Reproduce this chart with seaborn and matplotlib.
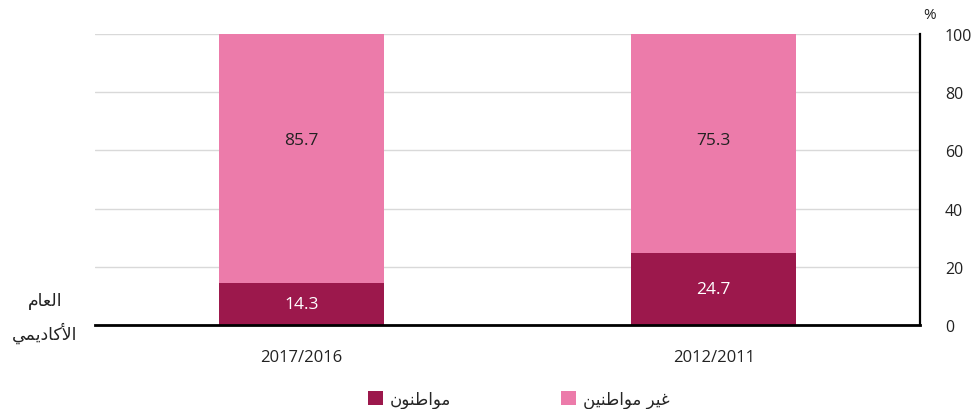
import matplotlib
matplotlib.use("Agg")
import matplotlib.pyplot as plt
from matplotlib.patches import Patch
import seaborn as sns
import pandas as pd

# ---------------- data ----------------
years = ["2017/2016", "2012/2011"]
citizens = [14.3, 24.7]
non_citizens = [85.7, 75.3]
y_ticks = [0, 20, 40, 60, 80, 100]
label_citizens = "مواطنون"
label_non_citizens = "غير مواطنين"
axis_label = "العام\nالأكاديمي"

# ---------------- minimal Arabic shaping ----------------
# forms: (isolated, final, initial, medial); None for right-joining letters
FORMS = {
    "\u0627": ("\uFE8D", "\uFE8E", None, None),
    "\u0623": ("\uFE83", "\uFE84", None, None),
    "\u0625": ("\uFE87", "\uFE88", None, None),
    "\u0622": ("\uFE81", "\uFE82", None, None),
    "\u062F": ("\uFEA9", "\uFEAA", None, None),
    "\u0631": ("\uFEAD", "\uFEAE", None, None),
    "\u0648": ("\uFEED", "\uFEEE", None, None),
    "\u0644": ("\uFEDD", "\uFEDE", "\uFEDF", "\uFEE0"),
    "\u0639": ("\uFEC9", "\uFECA", "\uFECB", "\uFECC"),
    "\u063A": ("\uFECD", "\uFECE", "\uFECF", "\uFED0"),
    "\u0645": ("\uFEE1", "\uFEE2", "\uFEE3", "\uFEE4"),
    "\u0643": ("\uFED9", "\uFEDA", "\uFEDB", "\uFEDC"),
    "\u064A": ("\uFEF1", "\uFEF2", "\uFEF3", "\uFEF4"),
    "\u0637": ("\uFEC1", "\uFEC2", "\uFEC3", "\uFEC4"),
    "\u0646": ("\uFEE5", "\uFEE6", "\uFEE7", "\uFEE8"),
}
LAM_ALEF = {
    "\u0627": ("\uFEFB", "\uFEFC"),
    "\u0623": ("\uFEF7", "\uFEF8"),
    "\u0625": ("\uFEF9", "\uFEFA"),
    "\u0622": ("\uFEF5", "\uFEF6"),
}


def dual(c):
    return c in FORMS and FORMS[c][2] is not None


def shape_word(word):
    units = []
    i = 0
    while i < len(word):
        c = word[i]
        if c == "\u0644" and i + 1 < len(word) and word[i + 1] in LAM_ALEF:
            units.append(("LA", word[i + 1]))
            i += 2
        else:
            units.append(("C", c))
            i += 1
    out = []
    for k, (kind, c) in enumerate(units):
        prev = units[k - 1] if k > 0 else None
        nxt = units[k + 1] if k + 1 < len(units) else None
        joins_prev = prev is not None and prev[0] == "C" and dual(prev[1])
        if kind == "LA":
            out.append(LAM_ALEF[c][1] if joins_prev else LAM_ALEF[c][0])
            continue
        if c not in FORMS:
            out.append(c)
            continue
        iso, fin, ini, med = FORMS[c]
        joins_next = dual(c) and nxt is not None and (nxt[0] == "LA" or nxt[1] in FORMS)
        if joins_prev and joins_next:
            out.append(med)
        elif joins_prev:
            out.append(fin)
        elif joins_next:
            out.append(ini)
        else:
            out.append(iso)
    return "".join(out)


def ar(text):
    lines = []
    for line in text.split("\n"):
        words = [shape_word(w)[::-1] for w in line.split(" ")]
        lines.append(" ".join(words[::-1]))
    return "\n".join(lines)


# ---------------- plot ----------------
sns.set_theme(style="white")
plt.rcParams["font.family"] = ["Open Sans", "DejaVu Sans"]

DARK = "#9C184C"
PINK = "#EC7BAA"
TXT = "#222222"

df = pd.DataFrame({
    "year": years,
    "citizens": citizens,
    "total": [a + b for a, b in zip(citizens, non_citizens)],
})

fig = plt.figure(figsize=(9.75, 4.1), dpi=100)
ax = fig.add_axes([0.0974, 0.2049, 0.8462, 0.7097])

sns.barplot(data=df, x="year", y="total", color=PINK, saturation=1,
            width=0.4, ax=ax, order=years, zorder=3, linewidth=0)
sns.barplot(data=df, x="year", y="citizens", color=DARK, saturation=1,
            width=0.4, ax=ax, order=years, zorder=3, linewidth=0)

ax.set_xlim(-0.5, 1.5)
ax.set_ylim(0, 100)
ax.set_yticks(y_ticks)
ax.yaxis.tick_right()
ax.tick_params(axis="y", length=0, pad=18, labelsize=11.5, labelcolor=TXT)
ax.tick_params(axis="x", length=0, pad=17, labelsize=12, labelcolor=TXT)
ax.set_xlabel("")
ax.set_ylabel("")
ax.grid(axis="y", color="#d9d9d9", linewidth=1, zorder=0)
ax.grid(axis="x", visible=False)

for s in ["left", "top"]:
    ax.spines[s].set_visible(False)
ax.spines["bottom"].set_color("black")
ax.spines["bottom"].set_linewidth(2)
ax.spines["bottom"].set_zorder(5)
ax.spines["right"].set_color("black")
ax.spines["right"].set_linewidth(1.6)

# value labels
for i, (c, n) in enumerate(zip(citizens, non_citizens)):
    ax.text(i, c / 2, f"{c}", ha="center", va="center", color="white",
            fontsize=12.5, zorder=6)
    ax.text(i, 63.5, f"{n}", ha="center", va="center", color=TXT,
            fontsize=12.5, zorder=6)

# percent sign
fig.text(0.953, 0.962, "%", ha="center", va="center", fontsize=11, color=TXT)

# axis title (left)
fig.text(0.046, 0.225, ar(axis_label), ha="center", va="center",
         fontsize=12.5, color=TXT, linespacing=1.75,
         family=["DejaVu Sans"])

# legend
handles = [Patch(facecolor=DARK, edgecolor="none", label=ar(label_citizens)),
           Patch(facecolor=PINK, edgecolor="none", label=ar(label_non_citizens))]
leg = fig.legend(handles=handles, loc="center", bbox_to_anchor=(0.532, 0.025),
                 ncol=2, frameon=False, handlelength=0.9, handleheight=0.9,
                 handletextpad=0.4, columnspacing=6.6,
                 prop={"family": ["DejaVu Sans"], "size": 12})

fig.savefig("out.png", dpi=100)
